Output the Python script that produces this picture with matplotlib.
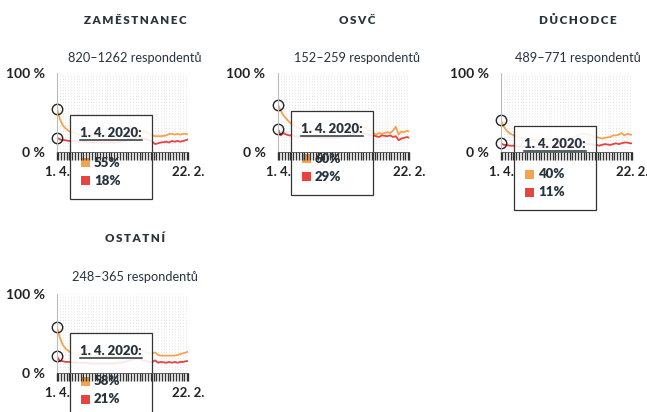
import matplotlib
matplotlib.use("Agg")
import matplotlib.pyplot as plt
import matplotlib.dates as mdates
import matplotlib.transforms as mtransforms
from matplotlib.patches import Rectangle
import pandas as pd

plt.rcParams['font.family'] = ['Lato', 'DejaVu Sans']

# survey dates (shared by all panels)
dates = pd.to_datetime([
    "2020-04-01", "2020-04-08", "2020-04-15", "2020-04-22", "2020-04-29",
    "2020-05-06", "2020-05-13", "2020-05-20", "2020-05-27", "2020-06-10",
    "2020-06-24", "2020-07-22", "2020-08-26", "2020-09-09", "2020-09-23",
    "2020-10-07", "2020-10-14", "2020-10-21", "2020-10-28", "2020-11-04",
    "2020-11-11", "2020-11-18", "2020-11-25", "2020-12-02", "2020-12-09",
    "2020-12-16", "2020-12-30", "2021-01-06", "2021-01-13", "2021-01-20",
    "2021-01-27", "2021-02-03", "2021-02-10", "2021-02-17", "2021-02-22",
])

groups = ["ZAMĚSTNANEC", "OSVČ", "DŮCHODCE", "OSTATNÍ"]
respondents = ["820–1262 respondentů", "152–259 respondentů",
               "489–771 respondentů", "248–365 respondentů"]

zam_orange = [55, 42, 34, 30, 27, 25, 24, 23, 22, 22, 21, 20, 20, 21, 23, 25, 27, 28,
              28, 27, 25, 23, 21, 20, 20, 20, 21, 23, 23, 22, 23, 22, 23, 23, 22]
zam_red = [18, 16, 15, 15, 14, 14, 14, 13, 13, 13, 12, 12, 12, 13, 15, 17, 18, 19,
           18, 17, 16, 15, 13, 10, 11, 12, 13, 12, 14, 13, 14, 13, 14, 15, 16]

osvc_orange = [60, 52, 46, 42, 38, 35, 33, 31, 30, 28, 27, 26, 26, 27, 29, 31, 33, 34,
               33, 31, 29, 27, 24, 22, 24, 23, 25, 24, 27, 32, 22, 26, 25, 27, 26]
osvc_red = [29, 21, 24, 22, 21, 21, 20, 20, 20, 19, 19, 18, 18, 19, 21, 23, 25, 26,
            25, 23, 22, 21, 21, 20, 19, 21, 20, 21, 19, 20, 15, 17, 18, 19, 18]

duch_orange = [40, 32, 27, 24, 22, 20, 19, 18, 17, 17, 16, 16, 16, 17, 18, 20, 22, 23,
               23, 22, 21, 20, 19, 18, 17, 18, 19, 21, 21, 22, 24, 21, 23, 22, 22]
duch_red = [11, 9, 9, 8, 8, 8, 7, 7, 7, 7, 6, 6, 6, 7, 8, 9, 10, 11,
            11, 10, 10, 9, 9, 8, 9, 10, 9, 10, 11, 10, 11, 12, 12, 11, 11]

ost_orange = [58, 45, 36, 31, 28, 26, 25, 24, 23, 23, 22, 21, 21, 22, 24, 26, 28, 29,
              28, 27, 26, 25, 25, 26, 23, 22, 22, 22, 22, 22, 23, 24, 25, 26, 27]
ost_red = [21, 15, 15, 14, 14, 14, 13, 13, 13, 13, 12, 12, 12, 13, 15, 17, 18, 18,
           17, 16, 15, 14, 14, 16, 13, 14, 13, 14, 13, 14, 13, 14, 14, 15, 15]

orange_series = [zam_orange, osvc_orange, duch_orange, ost_orange]
red_series = [zam_red, osvc_red, duch_red, ost_red]

x_end = pd.Timestamp("2021-02-22")
xtick_labels = ["1. 4.", "22. 2."]
tooltip_title = "1. 4. 2020:"

ORANGE = "#f5a44c"
RED = "#e8433e"
DARK = "#27343d"

W, H = 647, 412
fig = plt.figure(figsize=(W / 100, H / 100), dpi=100)
fig.patch.set_facecolor("white")


def fx(x):
    return x / W


def fy(y):
    return 1 - y / H


# panel layout in pixels: left, top of plot area, title centre
panels = [(57, 73, 135, 20), (278, 73, 357, 20), (501, 73, 578, 20), (57, 294, 135, 239)]
pw, ph = 131, 79

ident = mtransforms.IdentityTransform()
renderer = fig.canvas.get_renderer()

for i, (left, top, cx, ty) in enumerate(panels):
    ax = fig.add_axes([fx(left), fy(top + ph), pw / W, ph / H])
    orange = orange_series[i]
    red = red_series[i]

    # faint dotted grid
    for d in pd.date_range(dates[0], x_end, freq="7D"):
        ax.axvline(d, color="#e2e2e2", lw=0.7, ls=(0, (1, 2)), zorder=0.3)

    ax.plot(dates, orange, color=ORANGE, lw=1.3, zorder=1)
    ax.plot(dates, red, color=RED, lw=1.3, zorder=1)
    for v in (orange[0], red[0]):
        ax.plot([dates[0]], [v], "o", mfc="none", mec="#222", ms=7.5, mew=1.0,
                zorder=1.2, clip_on=False)

    ax.set_xlim(dates[0], x_end)
    ax.set_ylim(0, 100)
    ax.set_axisbelow(False)

    ax.set_xticks([dates[0], x_end])
    ax.set_xticklabels(xtick_labels)
    ax.xaxis.set_minor_locator(mdates.DayLocator(interval=7))
    ax.tick_params(axis="x", which="both", length=5.5, width=1.0, color="#333", direction="out")
    ax.tick_params(axis="x", which="major", pad=4.5, labelsize=9.5, labelcolor="#222")
    ax.set_yticks([0, 100])
    ax.set_yticklabels(["0 %", "100 %"])
    ax.tick_params(axis="y", length=0, pad=9, labelsize=10, labelcolor="#222")
    for lab in ax.get_xticklabels() + ax.get_yticklabels():
        lab.set_fontweight("bold")
    ax.get_xticklabels()[1].set_x(mdates.date2num(x_end) - 4)

    for s in ["top", "right"]:
        ax.spines[s].set_visible(False)
    ax.spines["left"].set_color("#bbbbbb")
    ax.spines["left"].set_linewidth(0.8)
    ax.spines["bottom"].set_color("#555555")
    ax.spines["bottom"].set_linewidth(0.6)

    fig.text(fx(cx), fy(ty), "\u2009".join(groups[i]), ha="center", va="center",
             fontsize=8.4, fontweight="heavy", color=DARK)
    fig.text(fx(cx), fy(ty + 38), respondents[i], ha="center", va="center",
             fontsize=9.2, color=DARK)

    # tooltip anchored at the first orange point
    axp, ayp = ax.transData.transform((mdates.date2num(dates[0]), orange[0]))
    bl = axp + 13
    bt = ayp - 6
    bw, bh = 82, 84
    ax.add_patch(Rectangle((bl, bt - bh), bw, bh, transform=ident, clip_on=False,
                           facecolor=(1, 1, 1, 0.88), edgecolor="#333", lw=0.9, zorder=2))
    t = ax.text(bl + 10, bt - 18, tooltip_title, transform=ident, clip_on=False,
                ha="left", va="center", fontsize=9.5, fontweight="heavy", color=DARK, zorder=2.2)
    ext = t.get_window_extent(renderer)
    ax.plot([ext.x0, ext.x1], [bt - 25, bt - 25], transform=ident, clip_on=False,
            color=DARK, lw=1.1, zorder=2.2)
    for k, (col, val) in enumerate([(ORANGE, orange[0]), (RED, red[0])]):
        yc = bt - 48 - 18 * k
        ax.add_patch(Rectangle((bl + 11, yc - 4.5), 9, 9, transform=ident, clip_on=False,
                               facecolor=col, edgecolor="none", zorder=2.2))
        ax.text(bl + 24, yc, f"{val}%", transform=ident, clip_on=False,
                ha="left", va="center", fontsize=9.5, fontweight="heavy", color=DARK, zorder=2.2)

fig.savefig("out.png", dpi=100)
